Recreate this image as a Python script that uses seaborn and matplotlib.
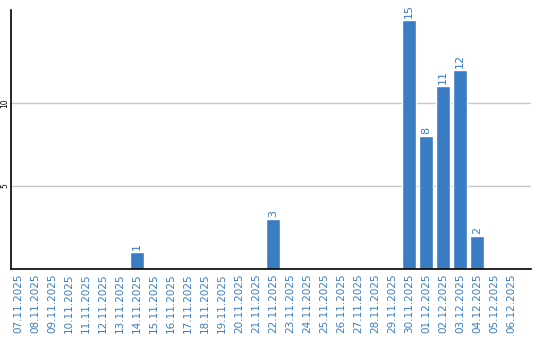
import matplotlib
matplotlib.use("Agg")
import matplotlib.pyplot as plt
import seaborn as sns
import pandas as pd

dates = ["07.11.2025", "08.11.2025", "09.11.2025", "10.11.2025", "11.11.2025",
         "12.11.2025", "13.11.2025", "14.11.2025", "15.11.2025", "16.11.2025",
         "17.11.2025", "18.11.2025", "19.11.2025", "20.11.2025", "21.11.2025",
         "22.11.2025", "23.11.2025", "24.11.2025", "25.11.2025", "26.11.2025",
         "27.11.2025", "28.11.2025", "29.11.2025", "30.11.2025", "01.12.2025",
         "02.12.2025", "03.12.2025", "04.12.2025", "05.12.2025", "06.12.2025"]
values = [0, 0, 0, 0, 0, 0, 0, 1, 0, 0, 0, 0, 0, 0, 0,
          3, 0, 0, 0, 0, 0, 0, 0, 15, 8, 11, 12, 2, 0, 0]
yticks = [5, 10]

sns.set_style("white")
bar_color = "#3a7dc2"

df = pd.DataFrame({"date": dates, "value": values})
fig = plt.figure(figsize=(5.4, 3.4), dpi=100)
ax = fig.add_axes([0.0204, 0.2088, 0.9630, 0.7618])
sns.barplot(data=df, x="date", y="value", color=bar_color, saturation=1,
            width=0.82, ax=ax, order=dates)

ax.set_ylim(0, 15.6)
ax.set_xlim(-0.41, 30.18)
ax.set_yticks(yticks)
ax.set_yticklabels([str(t) for t in yticks], rotation=90, fontsize=5.5,
                   va="center", color="black")
ax.yaxis.grid(True, color="#c8c8c8", linewidth=1)
ax.set_axisbelow(True)
ax.tick_params(axis="y", length=0, pad=1.5)
ax.tick_params(axis="x", length=0, pad=3)
ax.set_xticks(range(len(dates)))
ax.set_xticklabels(dates, rotation=90, fontsize=7.5, color=bar_color)
ax.set_xlabel("")
ax.set_ylabel("")

for s in ["top", "right"]:
    ax.spines[s].set_visible(False)
for s in ["left", "bottom"]:
    ax.spines[s].set_color("black")
    ax.spines[s].set_linewidth(1.2)

for i, v in enumerate(values):
    if v > 0:
        ax.text(i, v + 0.12, str(v), rotation=90, ha="center", va="bottom",
                fontsize=8, color=bar_color)

fig.savefig("out.png", dpi=100)
